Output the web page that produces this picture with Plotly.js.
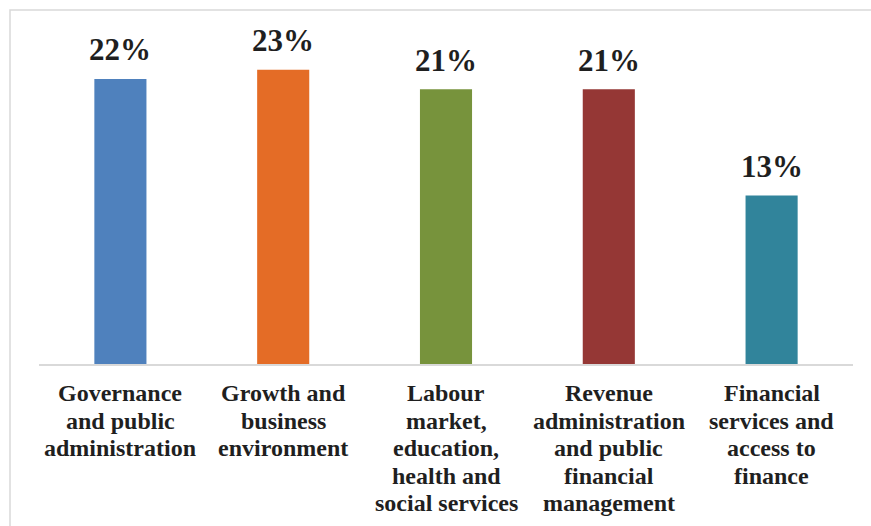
<!DOCTYPE html>
<html>
<head>
<meta charset="utf-8">
<script src="https://cdn.plot.ly/plotly-3.0.1.min.js"></script>
<style>html,body{margin:0;padding:0;background:#fff;}#chart{width:871px;height:526px;}</style>
</head>
<body>
<div id="chart"></div>
<script>
// Data
var categories = ["Governance", "Growth", "Labour", "Revenue", "Financial"];
var tickLines = [
  ["Governance", "and public", "administration"],
  ["Growth and", "business", "environment"],
  ["Labour", "market,", "education,", "health and", "social services"],
  ["Revenue", "administration", "and public", "financial", "management"],
  ["Financial", "services and", "access to", "finance"]
];
var values = [22.0, 22.7, 21.2, 21.2, 13.0];
var valueLabels = ["22%", "23%", "21%", "21%", "13%"];
var colors = ["#4F81BD", "#E46C26", "#77933C", "#953735", "#31849B"];

var W = 871, H = 526;
var mL = 39, mR = 18, mT = 40, mB = 162;
var plotW = W - mL - mR, plotH = H - mT - mB;
var textColor = "#1f1f1f";
var serifFont = "Liberation Serif";

var annotations = [];
// value labels above bars
for (var i = 0; i < categories.length; i++) {
  annotations.push({
    x: categories[i], y: values[i],
    text: valueLabels[i], showarrow: false,
    xanchor: "center", yanchor: "middle", yshift: 29,
    font: {family: serifFont, size: 31, weight: "bold", color: textColor}
  });
}
// category labels, one line per annotation for tight line spacing
for (var i = 0; i < categories.length; i++) {
  for (var j = 0; j < tickLines[i].length; j++) {
    annotations.push({
      x: categories[i], y: 0,
      text: tickLines[i][j], showarrow: false,
      xanchor: "center", yanchor: "middle", yshift: -29.3 - 27.5 * j,
      font: {family: serifFont, size: 24, weight: "bold", color: textColor}
    });
  }
}

var layout = {
  width: W, height: H,
  margin: {l: mL, r: mR, t: mT, b: mB},
  font: {family: serifFont},
  bargap: 0.68,
  showlegend: false,
  xaxis: {showticklabels: false, ticks: "", showline: true, linecolor: "#d9d9d9", linewidth: 1.5, showgrid: false, zeroline: false},
  yaxis: {range: [0, 25], showticklabels: false, ticks: "", showgrid: false, zeroline: false, showline: false},
  annotations: annotations,
  shapes: [{
    type: "rect", xref: "paper", yref: "paper", layer: "below",
    x0: (10 - mL) / plotW, x1: (W + 20 - mL) / plotW,
    y0: -(H + 20 - mT - plotH) / plotH, y1: (mT + plotH - 10) / plotH,
    line: {color: "#d9d9d9", width: 1.5}
  }]
};

Plotly.newPlot("chart", [{type: "bar", x: categories, y: values, marker: {color: colors}}], layout, {displayModeBar: false});
</script>
</body>
</html>
